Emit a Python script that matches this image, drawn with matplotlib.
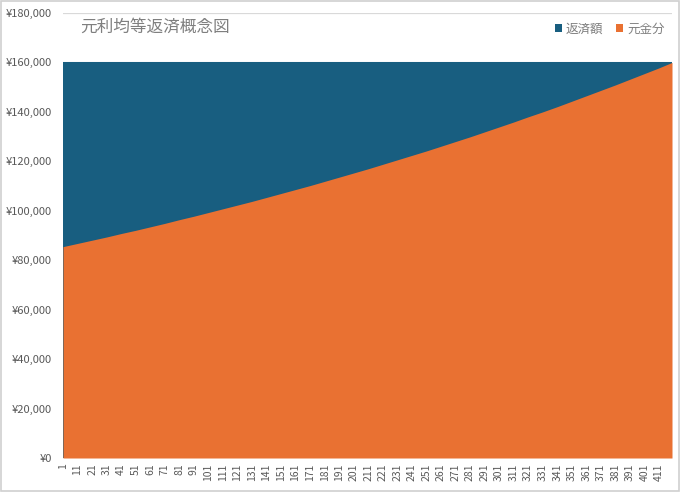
import matplotlib
matplotlib.use('Agg')
import matplotlib.pyplot as plt
from matplotlib.patches import Rectangle
from matplotlib.ticker import FuncFormatter

plt.rcParams['font.family'] = ['Noto Sans CJK JP', 'DejaVu Sans']

#--data--
title = '元利均等返済概念図'
series_names = ['返済額', '元金分']
months = [1, 11, 21, 31, 41, 51, 61, 71, 81, 91, 101, 111, 121, 131, 141,
          151, 161, 171, 181, 191, 201, 211, 221, 231, 241, 251, 261, 271,
          281, 291, 301, 311, 321, 331, 341, 351, 361, 371, 381, 391, 401,
          411, 420]
payment = [160000] * len(months)
principal = [85500, 86800, 88100, 89400, 90800, 92100, 93500, 94900, 96400,
             97800, 99300, 100800, 102300, 103800, 105400, 107000, 108600,
             110200, 111900, 113600, 115300, 117000, 118800, 120600, 122400,
             124200, 126100, 128000, 129900, 131900, 133900, 135900, 138000,
             140000, 142100, 144300, 146500, 148700, 150900, 153200, 155500,
             157800, 160000]
tick_months = list(range(1, 412, 10))
y_ticks = list(range(0, 180001, 20000))

blue = '#185e80'
orange = '#e97132'
gray = '#595959'
light_gray = '#7f7f7f'

fig = plt.figure(figsize=(6.8, 4.92), dpi=100)
fig.patches.append(Rectangle((0.002, 0.003), 0.996, 0.994, transform=fig.transFigure,
                             fill=False, edgecolor='#d0d0d0', lw=1.2))
ax = fig.add_axes([63 / 680, 1 - 458 / 492, (672 - 63) / 680, (458 - 13) / 492])

ax.fill_between(months, 0, payment, color=blue, lw=0, zorder=2, label=series_names[0])
ax.fill_between(months, 0, principal, color=orange, lw=0, zorder=3, label=series_names[1])

ax.set_xlim(1, 420)
ax.set_ylim(0, 180000)
ax.set_yticks(y_ticks)
ax.yaxis.set_major_formatter(FuncFormatter(lambda v, p: '¥{:,.0f}'.format(v)))
ax.set_xticks(tick_months)
ax.set_xticklabels([str(m) for m in tick_months], rotation=90)
ax.tick_params(axis='y', length=0, labelsize=8, labelcolor=gray, pad=8)
ax.tick_params(axis='x', length=0, labelsize=7.5, labelcolor=gray, pad=4)
ax.grid(axis='y', color='#d9d9d9', lw=0.9, zorder=0)
for s in ax.spines.values():
    s.set_visible(False)

fig.text(80 / 680, 1 - 27 / 492, title, fontsize=12, color=light_gray, va='center')
ax.legend(loc='upper right', bbox_to_anchor=(1.0, 0.995), ncol=2, frameon=False,
          fontsize=9, labelcolor=light_gray, handlelength=0.6, handleheight=0.6,
          handletextpad=0.3, columnspacing=1.0, borderaxespad=0.2)

fig.savefig('out.png', dpi=100)
